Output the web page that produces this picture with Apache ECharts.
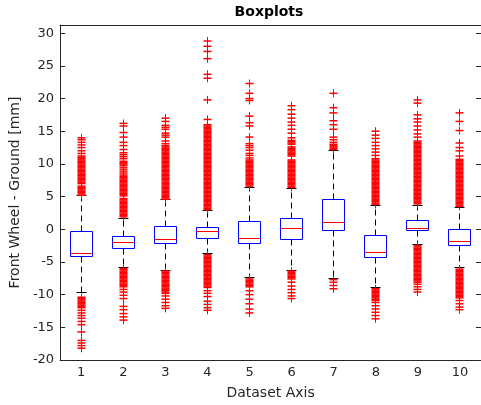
<!DOCTYPE html>
<html><head><meta charset="utf-8">
<script src="https://cdn.jsdelivr.net/npm/echarts@6/dist/echarts.min.js"></script>
<style>html,body{margin:0;padding:0;background:#fff}#c{width:481px;height:405px}</style>
</head><body><div id="c"></div>
<script>
// ---- data ----
const categories = ['1','2','3','4','5','6','7','8','9','10'];
const q3 =          [-0.4, -1.1,  0.5,  0.3,  1.2,  1.65,  4.6, -1.0,  1.35, -0.1];
const median =      [-3.7, -1.95, -1.6, -0.4, -1.45, 0.05, 1.05, -3.5,  0.05, -1.85];
const q1 =          [-4.1, -2.95, -2.25, -1.35, -2.25, -1.6, -0.25, -4.25, -0.2, -2.5];
const whiskerHigh = [5.1,  1.7,  4.5,  2.8,  6.45, 6.3, 12.05, 3.6,  3.7,  3.3];
const whiskerLow =  [-9.7, -5.8, -6.25, -3.75, -7.45, -6.3, -7.5, -8.95, -2.35, -5.9];
const yTicks = [-20,-15,-10,-5,0,5,10,15,20,25,30];

const outliers1 = [5.2,5.4,5.6,5.8,6.0,6.2,6.4,6.6,7.0,7.2,7.4,7.6,7.8,8.0,8.2,8.4,8.6,8.8,9.0,9.2,9.4,9.6,9.8,10.0,10.2,10.4,10.6,10.8,11.0,11.2,
  11.6,12.0,12.5,12.9,13.3,13.7,14.0,
  -10.4,-10.6,-10.8,-11.0,-11.2,-11.4,-11.6,-11.8,-12.0,
  -12.4,-12.8,-13.2,-13.6,-14.1,-14.6,-15.7,-17.0,-17.4,-17.8,-18.2];
const outliers2 = [1.9,2.1,2.3,2.5,2.7,2.9,3.1,3.3,3.5,3.7,3.9,4.1,4.3,4.5,4.7,5.1,5.3,5.5,5.7,5.9,6.1,6.3,6.5,6.7,6.9,7.1,7.3,7.5,7.7,7.9,8.1,8.3,
  8.6,8.9,9.2,9.5,9.8,10.0,10.2,10.4,10.8,11.1,11.4,11.7,12.2,12.8,13.3,14.1,14.8,15.8,16.2,
  -6.0,-6.2,-6.4,-6.6,-6.8,-7.0,-7.2,-7.4,-7.6,-7.8,-8.0,-8.2,-8.4,-8.6,-8.8,
  -9.2,-9.6,-10.1,-10.6,-11.8,-12.3,-12.9,-13.4,-13.9];
const outliers3 = [4.6,4.8,5.0,5.2,5.4,5.6,5.8,6.0,6.2,6.4,6.6,6.8,7.0,7.2,7.4,7.6,7.8,8.0,8.2,8.4,8.6,8.8,9.0,9.2,9.4,9.6,9.8,10.0,10.2,10.4,10.6,10.8,11.0,11.2,11.4,11.6,11.8,12.0,12.2,12.4,12.6,12.8,
  13.1,13.5,14.1,14.4,14.7,15.3,15.6,15.9,16.5,17.0,
  -6.4,-6.6,-6.8,-7.0,-7.2,-7.4,-7.6,-7.8,-8.0,-8.2,-8.4,-8.6,-8.8,-9.0,-9.2,-9.4,-9.6,-9.8,
  -10.2,-10.7,-11.2,-11.7,-12.1];
const outliers4 = [3.0,3.2,3.4,3.6,3.8,4.0,4.2,4.4,4.6,4.8,5.0,5.2,5.4,5.6,5.8,6.0,6.2,6.4,6.6,6.8,7.0,7.2,7.4,7.6,7.8,8.0,8.2,8.4,8.6,8.8,9.0,9.2,9.4,9.6,9.8,10.0,10.2,10.4,10.6,10.8,11.0,11.2,11.4,11.6,11.8,12.0,12.2,12.4,12.6,12.8,13.0,13.2,13.4,13.6,13.8,14.0,14.2,14.4,14.6,14.8,15.0,15.2,15.4,15.6,15.8,16.0,
  16.8,19.8,23.1,23.7,26.1,27.2,28.0,28.8,
  -3.9,-4.1,-4.3,-4.5,-4.7,-4.9,-5.1,-5.3,-5.5,-5.7,-5.9,-6.1,-6.3,-6.5,-6.7,-6.9,-7.1,-7.3,-7.5,-7.7,-7.9,-8.1,-8.3,-8.5,-8.7,-8.9,
  -9.4,-9.8,-10.3,-11.0,-11.5,-12.0,-12.4];
const outliers5 = [6.6,6.8,7.0,7.2,7.4,7.6,7.8,8.0,8.2,8.4,8.6,8.8,9.0,9.2,9.4,9.6,9.8,10.0,10.2,10.4,10.6,
  10.9,11.3,11.6,12.1,12.5,12.8,13.1,14.1,15.8,16.3,17.3,19.7,20.0,20.8,22.3,
  -7.6,-7.8,-8.0,-8.2,-8.4,-8.6,-8.8,-9.4,-10.0,-10.7,-11.4,-12.2,-12.8];
const outliers6 = [6.4,6.6,6.8,7.0,7.2,7.4,7.6,7.8,8.0,8.2,8.4,8.6,8.8,9.0,9.2,9.4,9.6,9.8,10.0,10.2,10.4,10.6,11.2,11.4,11.6,11.8,12.0,12.2,12.4,12.6,13.0,13.2,13.4,13.6,
  14.0,14.7,15.3,15.9,16.4,17.0,17.6,18.3,18.9,
  -6.4,-6.6,-6.8,-7.0,-7.2,-7.4,-7.6,-8.1,-8.7,-9.2,-9.7,-10.2,-10.6];
const outliers7 = [12.2,12.4,12.6,12.8,13.0,13.3,13.7,14.1,15.3,16.0,16.6,17.8,18.6,20.8,
  -7.7,-8.1,-8.6,-9.1];
const outliers8 = [3.8,4.0,4.2,4.4,4.6,4.8,5.0,5.2,5.4,5.6,5.8,6.0,6.2,6.4,6.6,6.8,7.0,7.2,7.4,7.6,7.8,8.0,8.2,8.4,8.6,8.8,9.0,9.2,9.4,9.6,9.8,10.0,10.2,10.4,10.6,10.8,
  11.3,11.8,12.3,12.8,13.3,13.9,14.4,15.0,
  -9.1,-9.3,-9.5,-9.7,-9.9,-10.1,-10.3,-10.5,-10.7,-10.9,
  -11.2,-11.7,-12.2,-12.7,-13.2,-13.7];
const outliers9 = [3.9,4.1,4.3,4.5,4.7,4.9,5.1,5.3,5.5,5.7,5.9,6.1,6.3,6.5,6.7,6.9,7.1,7.3,7.5,7.7,7.9,8.1,8.3,8.5,8.7,8.9,9.1,9.3,9.5,9.7,9.9,10.1,10.3,10.5,10.7,10.9,11.1,11.3,11.5,11.7,11.9,12.1,12.3,12.5,12.7,12.9,13.1,13.3,13.5,
  14.1,14.6,15.2,15.8,16.4,16.9,17.5,19.3,19.8,
  -2.5,-2.7,-2.9,-3.1,-3.3,-3.5,-3.7,-3.9,-4.1,-4.3,-4.5,-4.7,-4.9,-5.1,-5.3,-5.5,-5.7,-5.9,-6.1,-6.3,-6.5,-6.7,-6.9,-7.1,-7.3,-7.5,-7.7,-7.9,-8.1,
  -8.4,-8.8,-9.2,-9.6];
const outliers10 = [3.5,3.7,3.9,4.1,4.3,4.5,4.7,4.9,5.1,5.3,5.5,5.7,5.9,6.1,6.3,6.5,6.7,6.9,7.1,7.3,7.5,7.7,7.9,8.1,8.3,8.5,8.7,8.9,9.1,9.3,9.5,9.7,9.9,10.1,10.3,10.5,10.7,
  11.2,12.0,12.5,13.2,15.1,16.5,17.8,
  -6.1,-6.3,-6.5,-6.7,-6.9,-7.1,-7.3,-7.5,-7.7,-7.9,-8.1,-8.3,-8.5,-8.7,-8.9,-9.1,-9.3,-9.5,-9.7,-9.9,-10.1,-10.3,-10.5,
  -10.9,-11.4,-11.9,-12.3];
const outlierSets = [outliers1,outliers2,outliers3,outliers4,outliers5,outliers6,outliers7,outliers8,outliers9,outliers10];

// ---- build ----
const FONT = 'DejaVu Sans';
const AX = '#262626';
const crisp = v => Math.round(v - 0.5) + 0.5;

const boxData = categories.map((c, i) => [i, whiskerLow[i], q1[i], median[i], q3[i], whiskerHigh[i]]);
const outlierData = [];
outlierSets.forEach((arr, i) => arr.forEach(v => outlierData.push([i, v])));

const chart = echarts.init(document.getElementById('c'), null, {renderer: 'canvas'});
chart.setOption({
  animation: false,
  backgroundColor: '#fff',
  title: {
    text: 'Boxplots', left: 269, top: 5, textAlign: 'center', padding: 0,
    textStyle: {fontFamily: FONT, fontSize: 14, fontWeight: 'bold', color: '#000'}
  },
  grid: {left: 56, right: -2, top: 25, bottom: 42, containLabel: false},
  xAxis: [{
    type: 'category', data: categories, boundaryGap: true, position: 'bottom',
    axisLine: {onZero: false, lineStyle: {color: AX, width: 1}},
    axisTick: {alignWithLabel: true, inside: true, length: 5, lineStyle: {color: AX}},
    axisLabel: {fontFamily: FONT, fontSize: 13, color: AX, margin: 6},
    splitLine: {show: false},
    name: 'Dataset Axis', nameLocation: 'middle', nameGap: 26,
    nameTextStyle: {fontFamily: FONT, fontSize: 14, color: AX}
  }, {
    type: 'category', data: categories, boundaryGap: true, position: 'top',
    axisLine: {onZero: false, lineStyle: {color: AX, width: 1}},
    axisTick: {alignWithLabel: true, inside: true, length: 5, lineStyle: {color: AX}},
    axisLabel: {show: false}, splitLine: {show: false}
  }],
  yAxis: [{
    type: 'value', min: yTicks[0], max: 31.25, interval: 5, position: 'left',
    axisLine: {show: true, onZero: false, lineStyle: {color: AX, width: 1}},
    axisTick: {show: true, inside: true, length: 5, lineStyle: {color: AX}},
    axisLabel: {fontFamily: FONT, fontSize: 13, color: AX, margin: 6,
      formatter: v => (yTicks.indexOf(v) >= 0 ? String(v) : '')},
    splitLine: {show: false},
    name: 'Front Wheel - Ground [mm]', nameLocation: 'middle', nameGap: 30,
    nameTextStyle: {fontFamily: FONT, fontSize: 14, color: AX}
  }, {
    type: 'value', min: yTicks[0], max: 31.25, interval: 5, position: 'right',
    axisLine: {show: true, onZero: false, lineStyle: {color: AX, width: 1}},
    axisTick: {show: true, inside: true, length: 5, lineStyle: {color: AX}},
    axisLabel: {show: false}, splitLine: {show: false}
  }],
  series: [{
    type: 'custom', name: 'boxes', xAxisIndex: 0, yAxisIndex: 0,
    data: boxData, z: 2,
    renderItem(params, api) {
      const x = api.value(0);
      const band = api.size([1, 0])[0];
      const cx = crisp(api.coord([x, 0])[0]);
      const y = k => crisp(api.coord([x, api.value(k)])[1]);
      const yLow = y(1), yQ1 = y(2), yMed = y(3), yQ3 = y(4), yHigh = y(5);
      const hw = Math.round(band * 0.25), cw = Math.round(band * 0.125);
      const dash = {stroke: '#000', lineWidth: 1, lineDash: [6, 4], fill: null};
      const solid = c => ({stroke: c, lineWidth: 1, fill: null});
      return {type: 'group', children: [
        {type: 'line', shape: {x1: cx, y1: yQ3, x2: cx, y2: yHigh}, style: dash},
        {type: 'line', shape: {x1: cx, y1: yQ1, x2: cx, y2: yLow}, style: dash},
        {type: 'line', shape: {x1: cx - cw, y1: yHigh, x2: cx + cw, y2: yHigh}, style: solid('#000')},
        {type: 'line', shape: {x1: cx - cw, y1: yLow, x2: cx + cw, y2: yLow}, style: solid('#000')},
        {type: 'rect', shape: {x: cx - hw, y: yQ3, width: 2 * hw, height: yQ1 - yQ3}, style: {stroke: '#0000ff', lineWidth: 1, fill: 'rgba(0,0,0,0)'}},
        {type: 'line', shape: {x1: cx - hw, y1: yMed, x2: cx + hw, y2: yMed}, style: solid('#ff0000')}
      ]};
    }
  }, {
    type: 'custom', name: 'outliers', xAxisIndex: 0, yAxisIndex: 0,
    data: outlierData, z: 3,
    renderItem(params, api) {
      const p = api.coord([api.value(0), api.value(1)]);
      const cx = crisp(p[0]), cy = p[1];
      return {type: 'group', children: [
        {type: 'line', shape: {x1: cx - 4, y1: cy, x2: cx + 4, y2: cy}, style: {stroke: '#ff0000', lineWidth: 1.5, fill: null}},
        {type: 'line', shape: {x1: cx, y1: cy - 4, x2: cx, y2: cy + 4}, style: {stroke: '#ff0000', lineWidth: 1, fill: null}}
      ]};
    }
  }]
});
</script>
</body></html>
